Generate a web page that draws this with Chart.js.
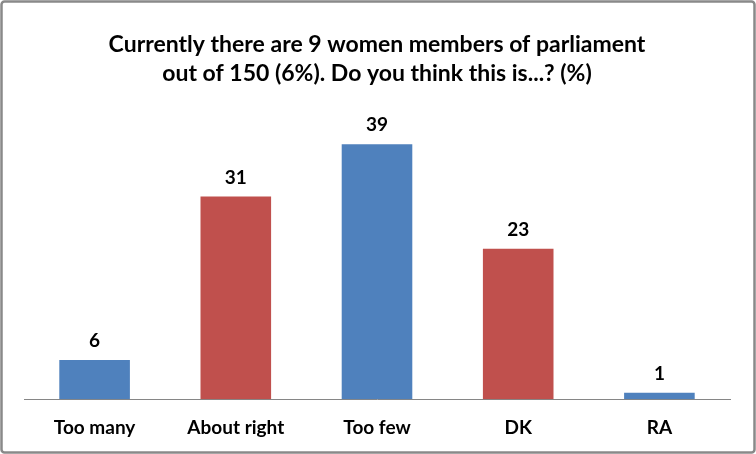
<!DOCTYPE html>
<html>
<head>
<meta charset="utf-8">
<script src="https://cdn.jsdelivr.net/npm/chart.js@4"></script>
<style>
  html, body { margin: 0; padding: 0; background: #fff; }
  #wrap { width: 756px; height: 454px; position: relative; }
</style>
</head>
<body>
<div id="wrap"><canvas id="chart" width="756" height="454"></canvas></div>
<script>
const categories = ['Too many', 'About right', 'Too few', 'DK', 'RA'];
const values = [6, 31, 39, 23, 1];
const barColors = ['#4F81BD', '#C0504D', '#4F81BD', '#C0504D', '#4F81BD'];
const titleLines = ['Currently there are 9 women members of parliament', 'out of 150 (6%). Do you think this is...? (%)'];

const fontFamily = 'Lato, "Open Sans", sans-serif';

// frame around the whole picture, like the exported Excel chart
const framePlugin = {
  id: 'frame',
  beforeDraw(chart) {
    const c = chart.ctx;
    c.save();
    c.fillStyle = '#fff';
    c.fillRect(0, 0, chart.width, chart.height);
    c.restore();
  },
  afterDraw(chart) {
    const c = chart.ctx;
    c.save();
    c.strokeStyle = '#898989';
    c.lineWidth = 2.5;
    c.beginPath();
    c.roundRect(1.5, 1.5, chart.width - 3, chart.height - 3, 3);
    c.stroke();
    c.restore();
  }
};

// value labels sitting above each bar
const valueLabels = {
  id: 'valueLabels',
  afterDatasetsDraw(chart) {
    const c = chart.ctx;
    const meta = chart.getDatasetMeta(0);
    c.save();
    c.font = 'bold 19px ' + fontFamily;
    c.fillStyle = '#000';
    c.textAlign = 'center';
    c.textBaseline = 'middle';
    meta.data.forEach((bar, i) => {
      c.fillText(String(values[i]), bar.x, bar.y - 19);
    });
    c.restore();
  }
};

const ctx = document.getElementById('chart').getContext('2d');
new Chart(ctx, {
  type: 'bar',
  plugins: [framePlugin, valueLabels],
  data: {
    labels: categories,
    datasets: [{
      data: values,
      backgroundColor: barColors,
      borderWidth: 0,
      barPercentage: 0.5,
      categoryPercentage: 1.0
    }]
  },
  options: {
    responsive: false,
    animation: false,
    layout: {
      padding: { left: 24, right: 26, top: 0, bottom: -2 }
    },
    plugins: {
      legend: { display: false },
      tooltip: { enabled: false },
      title: {
        display: true,
        text: titleLines,
        color: '#000',
        font: { family: fontFamily, size: 23, weight: 'bold', lineHeight: 1.26 },
        padding: { top: 30, bottom: 17 }
      }
    },
    scales: {
      x: {
        grid: { display: false, drawTicks: false },
        border: { display: true, color: '#868686', width: 1 },
        ticks: {
          color: '#000',
          padding: 17,
          font: { family: fontFamily, size: 19, weight: 'bold' }
        }
      },
      y: {
        display: false,
        min: 0,
        max: 45
      }
    }
  }
});
</script>
</body>
</html>
